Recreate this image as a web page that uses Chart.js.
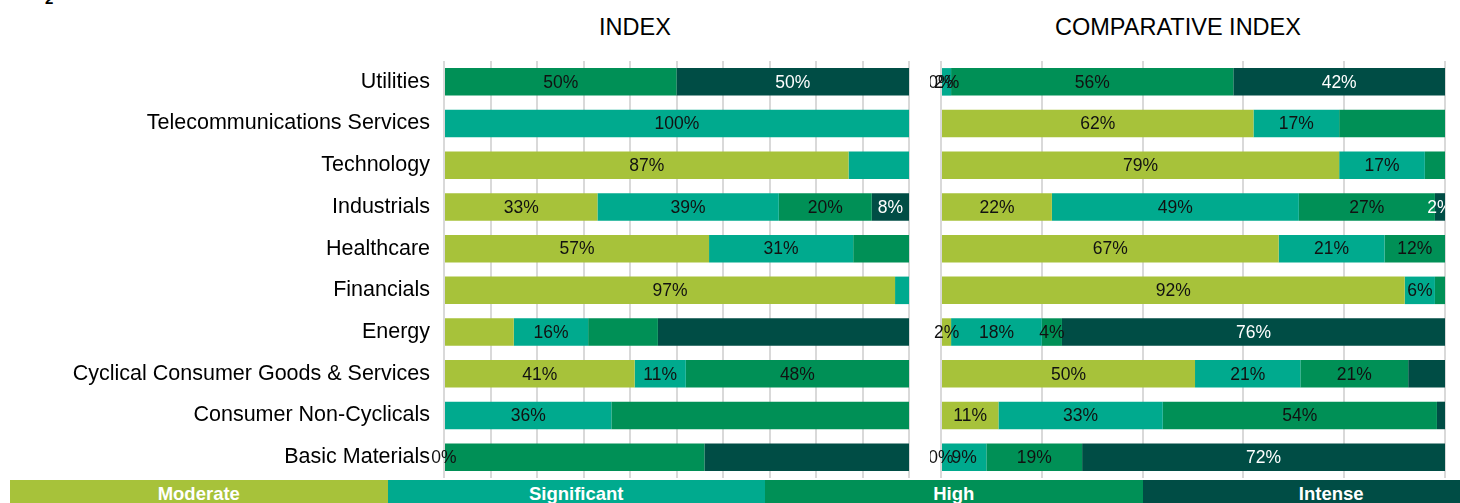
<!DOCTYPE html>
<html>
<head>
<meta charset="utf-8">
<script src="https://cdn.jsdelivr.net/npm/chart.js@4/dist/chart.umd.min.js"></script>
<style>
  html, body { margin: 0; padding: 0; background: #fff; }
  body { width: 1460px; height: 503px; position: relative; overflow: hidden;
         font-family: "Liberation Sans", Arial, sans-serif; }
  canvas { position: absolute; top: 0; }
  .title { position: absolute; font-size: 23.5px; line-height: 23.5px; color: #000; text-align: center; white-space: nowrap; }
  .corner { position: absolute; left: 45px; top: -9px; font-size: 15px; line-height: 15px; font-weight: bold; }
  #legend { position: absolute; left: 10px; top: 480px; height: 40px; width: 1520px; display: flex; }
  #legend div { width: 377.5px; height: 40px; box-sizing: border-box; padding-top: 5px;
                color: #fff; font-weight: bold; font-size: 18.5px; line-height: 18.5px; text-align: center; }
</style>
</head>
<body>
<div class="corner">2</div>
<div class="title" style="left:535px;width:200px;top:16px">INDEX</div>
<div class="title" style="left:1028px;width:300px;top:16px">COMPARATIVE INDEX</div>
<canvas id="indexChart" width="930" height="480" style="left:0"></canvas>
<canvas id="compChart" width="530" height="480" style="left:930px"></canvas>
<div id="legend"></div>

<script>
// ---------- DATA ----------
const categories = [
  "Utilities", "Telecommunications Services", "Technology", "Industrials", "Healthcare",
  "Financials", "Energy", "Cyclical Consumer Goods & Services", "Consumer Non-Cyclicals", "Basic Materials"
];
const seriesNames = ["Moderate", "Significant", "High", "Intense"];
const seriesColors = ["#a7c23a", "#00aa8e", "#009056", "#004d45"];
const labelColors = ["#111", "#111", "#111", "#fff"];

// INDEX panel
const indexModerate    = [0, 0, 87, 33, 57, 97, 15, 41, 0, 0];
const indexSignificant = [0, 100, 13, 39, 31, 3, 16, 11, 36, 0];
const indexHigh        = [50, 0, 0, 20, 12, 0, 15, 48, 64, 56];
const indexIntense     = [50, 0, 0, 8, 0, 0, 54, 0, 0, 44];

const indexModerateLabels    = ["", "", "87%", "33%", "57%", "97%", "", "41%", "", "0%"];
const indexSignificantLabels = ["", "100%", "", "39%", "31%", "", "16%", "11%", "36%", ""];
const indexHighLabels        = ["50%", "", "", "20%", "", "", "", "48%", "", ""];
const indexIntenseLabels     = ["50%", "", "", "8%", "", "", "", "", "", ""];

// COMPARATIVE INDEX panel
const compModerate    = [0, 62, 79, 22, 67, 92, 2, 50.4, 11.4, 0];
const compSignificant = [2, 17, 17, 49, 21, 6, 18, 20.9, 32.6, 9];
const compHigh        = [56, 21, 4, 27, 12, 2, 4, 21.4, 54.4, 19];
const compIntense     = [42, 0, 0, 2, 0, 0, 76, 7.3, 1.6, 72];

const compModerateLabels    = ["0%", "62%", "79%", "22%", "67%", "92%", "2%", "50%", "11%", "0%"];
const compSignificantLabels = ["2%", "17%", "17%", "49%", "21%", "6%", "18%", "21%", "33%", "9%"];
const compHighLabels        = ["56%", "", "", "27%", "12%", "", "4%", "21%", "54%", "19%"];
const compIntenseLabels     = ["42%", "", "", "2%", "", "", "76%", "", "", "72%"];

const indexStep = 10;
const compStep = 20;

Chart.defaults.font.family = '"Liberation Sans", Arial, sans-serif';
Chart.defaults.color = "#000";

// ---------- LABEL PLUGIN ----------
const segmentLabels = {
  id: "segmentLabels",
  afterDatasetsDraw(chart) {
    const ctx = chart.ctx;
    const area = chart.chartArea;
    ctx.save();
    ctx.beginPath();
    ctx.rect(0, 0, area.right, chart.height);
    ctx.clip();
    ctx.font = '17.5px "Liberation Sans", Arial, sans-serif';
    ctx.textAlign = "center";
    ctx.textBaseline = "middle";
    chart.data.datasets.forEach((ds, i) => {
      const meta = chart.getDatasetMeta(i);
      ctx.fillStyle = ds.labelColor;
      meta.data.forEach((bar, j) => {
        const text = ds.valueLabels[j];
        if (!text) return;
        const p = bar.getProps(["x", "base", "y"], true);
        ctx.fillText(text, (p.x + p.base) / 2, p.y + 1);
      });
    });
    ctx.restore();
  }
};

function makeDatasets(values, labels) {
  return values.map((v, i) => ({
    label: seriesNames[i],
    data: v,
    valueLabels: labels[i],
    labelColor: labelColors[i],
    backgroundColor: seriesColors[i],
    borderWidth: 0,
    categoryPercentage: 1,
    barPercentage: 0.66
  }));
}

function makeChart(id, datasets, step, showCategories, padding) {
  return new Chart(document.getElementById(id), {
    type: "bar",
    data: { labels: categories, datasets },
    options: {
      indexAxis: "y",
      responsive: false,
      animation: false,
      layout: { padding },
      plugins: { legend: { display: false }, tooltip: { enabled: false } },
      scales: {
        x: {
          stacked: true, min: 0, max: 100,
          ticks: { display: false, stepSize: step },
          grid: { color: "#d9d9d9", lineWidth: 2, drawTicks: false },
          border: { display: false }
        },
        y: {
          stacked: true,
          display: showCategories,
          grid: { display: false, drawTicks: false },
          border: { display: false },
          ticks: { font: { size: 21.5 }, color: "#000", padding: 14 },
          afterFit: (s) => {
            s.paddingTop = 0;
            s.paddingBottom = 0;
            if (showCategories) s.width = 444;
          }
        }
      }
    },
    plugins: [segmentLabels]
  });
}

makeChart("indexChart",
  makeDatasets([indexModerate, indexSignificant, indexHigh, indexIntense],
               [indexModerateLabels, indexSignificantLabels, indexHighLabels, indexIntenseLabels]),
  indexStep, true, { top: 61, right: 21, bottom: 2, left: 0 });

makeChart("compChart",
  makeDatasets([compModerate, compSignificant, compHigh, compIntense],
               [compModerateLabels, compSignificantLabels, compHighLabels, compIntenseLabels]),
  compStep, false, { top: 61, right: 15, bottom: 2, left: 11 });

// ---------- LEGEND STRIP ----------
const legend = document.getElementById("legend");
seriesNames.forEach((name, i) => {
  const d = document.createElement("div");
  d.style.background = seriesColors[i];
  d.textContent = name;
  legend.appendChild(d);
});
</script>
</body>
</html>
